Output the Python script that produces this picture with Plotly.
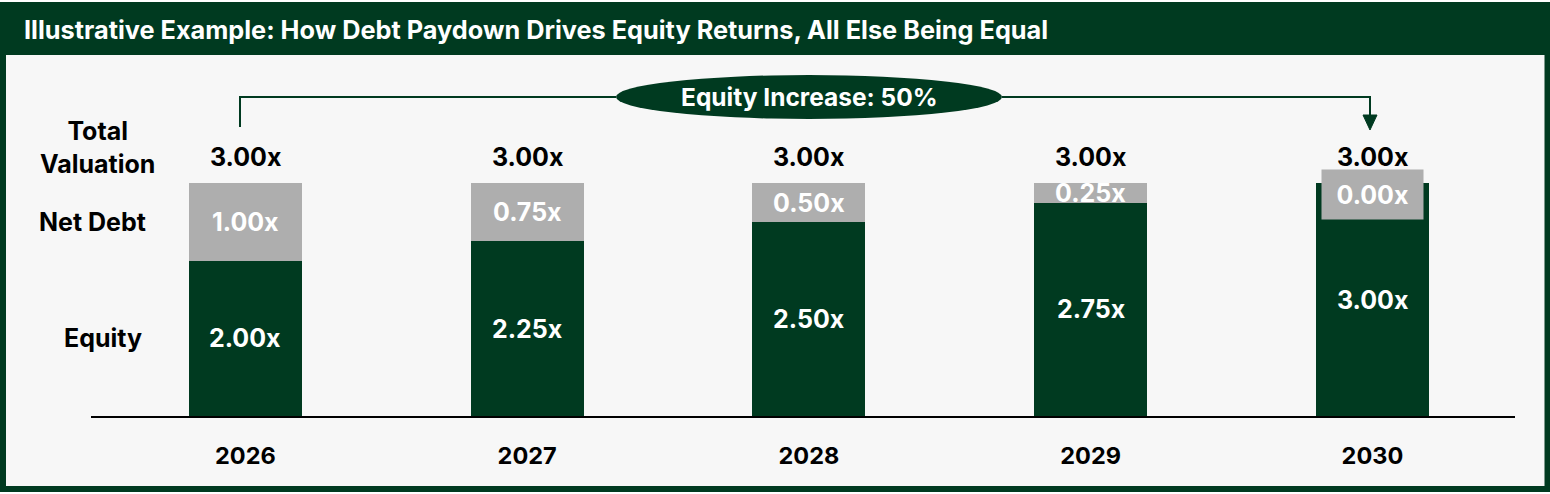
"""Debt paydown illustration: stacked equity / net debt bars."""

import plotly.graph_objects as go

# Data
YEARS = ["2026", "2027", "2028", "2029", "2030"]
EQUITY = [2.00, 2.25, 2.50, 2.75, 3.00]
NET_DEBT = [1.00, 0.75, 0.50, 0.25, 0.00]
ROW_LABELS = ["Total<br>Valuation", "Net Debt", "Equity"]
TITLE = "Illustrative Example: How Debt Paydown Drives Equity Returns, All Else Being Equal"

TOTAL = [e + d for e, d in zip(EQUITY, NET_DEBT)]
EQUITY_INCREASE = EQUITY[-1] / EQUITY[0] - 1

COLORS = {
    "green": "#003A20",
    "grey": "#AEAEAE",
    "bg": "#F7F7F7",
    "text": "#000000",
}
LABEL_FONT = "Inter, Roboto, sans-serif"
TITLE_FONT = "Inter, Roboto, sans-serif"
LABEL_SIZE = 25

# Figure geometry (pixels)
W, H = 1550, 494
ML, MR, MT, MB = 91, 35, 55, 78
PLOT_W = W - ML - MR
PLOT_H = H - MT - MB


def px(x):
    """Pixel x -> paper x."""
    return (x - ML) / PLOT_W


def py(y):
    """Pixel y (from top) -> paper y."""
    return (H - MB - y) / PLOT_H


def label(x, y, text, xref="x", yref="y", **kw):
    """Centered annotation (anchors fixed so paper refs don't auto-anchor)."""
    d = dict(
        x=x, y=y, xref=xref, yref=yref, text=text, showarrow=False,
        xanchor="center", yanchor="middle",
        font=dict(family=LABEL_FONT, size=LABEL_SIZE, color="white"),
    )
    d.update(kw)
    return d


fig = go.Figure()

fig.add_trace(
    go.Bar(
        x=YEARS,
        y=EQUITY,
        name="Equity",
        marker=dict(color=COLORS["green"], line=dict(width=0)),
        width=0.401,
        hoverinfo="skip",
    )
)
fig.add_trace(
    go.Bar(
        x=YEARS,
        y=NET_DEBT,
        name="Net Debt",
        marker=dict(color=COLORS["grey"], line=dict(width=0)),
        width=0.401,
        hoverinfo="skip",
    )
)

annotations = []

# Bar labels (x as category index: numeric-looking strings would be read as numbers)
for i, (eq, nd, tot) in enumerate(zip(EQUITY, NET_DEBT, TOTAL)):
    annotations.append(label(i, eq / 2, f"<b>{eq:.2f}x</b>"))
    if nd > 0:
        annotations.append(label(i, eq + nd / 2, f"<b>{nd:.2f}x</b>"))
    else:
        # zero debt: label sits in its own grey box
        annotations.append(
            label(
                i, tot, f"<b>{nd:.2f}x</b>", yshift=-11.5,
                width=101, height=49, borderpad=0, bgcolor=COLORS["grey"],
            )
        )
    annotations.append(
        label(
            i, tot, f"<b>{tot:.2f}x</b>", yshift=26,
            font=dict(family=LABEL_FONT, size=LABEL_SIZE, color=COLORS["text"]),
        )
    )

# Row labels on the left
row_pos = [
    (px(97), TOTAL[0], 36),
    (px(92), EQUITY[0] + NET_DEBT[0] / 2, 0),
    (px(103), EQUITY[0] / 2, 0),
]
for text, (x, y, shift) in zip(ROW_LABELS, row_pos):
    annotations.append(
        label(
            x, y, f"<b>{text}</b>", xref="paper", yshift=shift,
            font=dict(family=LABEL_FONT, size=LABEL_SIZE, color=COLORS["text"]),
        )
    )

# Title bar text
annotations.append(
    label(
        px(22), py(29), f"<b>{TITLE}</b>", xref="paper", yref="paper",
        xanchor="left",
        font=dict(family=TITLE_FONT, size=25.3, color="white"),
    )
)

# Equity increase bubble text
annotations.append(
    label(
        px(809), py(97), f"<b>Equity Increase: {EQUITY_INCREASE:.0%}</b>",
        xref="paper", yref="paper",
        font=dict(family=LABEL_FONT, size=24.5, color="white"),
    )
)

shapes = [
    # outer frame
    dict(
        type="rect", xref="paper", yref="paper", layer="below",
        x0=px(3), x1=px(1547.5), y0=py(489), y1=py(5),
        fillcolor=COLORS["bg"], line=dict(color=COLORS["green"], width=6),
    ),
    # title bar
    dict(
        type="rect", xref="paper", yref="paper", layer="below",
        x0=px(0), x1=px(1550), y0=py(55), y1=py(3),
        fillcolor=COLORS["green"], line=dict(width=0),
    ),
    # bracket, left part
    dict(
        type="path", xref="paper", yref="paper",
        path=f"M {px(240)},{py(127)} L {px(240)},{py(97)} L {px(616)},{py(97)}",
        line=dict(color=COLORS["green"], width=2),
    ),
    # bracket, right part
    dict(
        type="path", xref="paper", yref="paper",
        path=f"M {px(1002)},{py(97)} L {px(1370)},{py(97)} L {px(1370)},{py(116)}",
        line=dict(color=COLORS["green"], width=2),
    ),
    # arrow head
    dict(
        type="path", xref="paper", yref="paper",
        path=f"M {px(1363)},{py(115)} L {px(1377)},{py(115)} L {px(1370)},{py(130)} Z",
        fillcolor=COLORS["green"], line=dict(color=COLORS["green"], width=1),
    ),
    # bubble
    dict(
        type="circle", xref="paper", yref="paper",
        x0=px(616), x1=px(1002), y0=py(119), y1=py(75),
        fillcolor=COLORS["green"], line=dict(width=0),
    ),
]

fig.update_layout(
    barmode="stack",
    showlegend=False,
    width=W,
    height=H,
    margin=dict(l=ML, r=MR, t=MT, b=MB),
    paper_bgcolor="white",
    plot_bgcolor="rgba(0,0,0,0)",
    font=dict(family=LABEL_FONT, color=COLORS["text"]),
    annotations=annotations,
    shapes=shapes,
    xaxis=dict(
        type="category",
        range=[-0.548, 4.506],
        showgrid=False,
        zeroline=False,
        showline=True,
        linecolor="black",
        linewidth=2,
        ticks="",
        ticklabelstandoff=18,
        tickfont=dict(family=LABEL_FONT, size=23.5, color=COLORS["text"], weight="bold"),
        fixedrange=True,
    ),
    yaxis=dict(
        range=[0, 4.65],
        visible=False,
        fixedrange=True,
    ),
)

fig.write_html(
    "out.html",
    config={"displayModeBar": False},
    post_script="document.body.style.margin = '0';",
)
